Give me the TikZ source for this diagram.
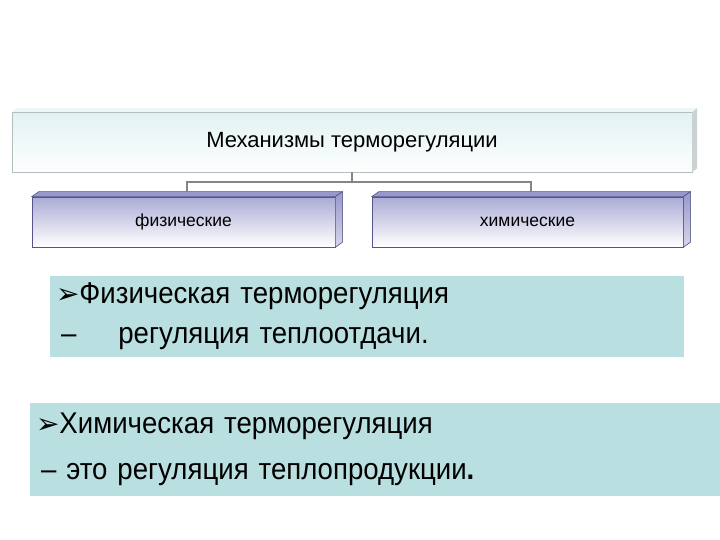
\documentclass[tikz,border=0pt]{standalone}
\usepackage{fontspec}
\setmainfont{Liberation Sans}
\newfontfamily\notefont[FakeStretch=0.92]{Liberation Sans}
\newfontfamily\arrowfont{DejaVu Sans}
\definecolor{notecyan}{HTML}{B9DFE0}
\definecolor{lavtop}{HTML}{ABABD6}
\definecolor{lavside}{HTML}{9898CC}
\definecolor{lavedge}{HTML}{55558A}
\definecolor{mechtop}{HTML}{E2F2F2}
\definecolor{mechedge}{HTML}{B4BEBE}
\definecolor{linkgray}{HTML}{858585}
\tikzset{
  mechbox/.style={draw=mechedge, top color=mechtop, bottom color=white!94!mechtop,
    minimum height=60pt, font=\fontsize{22}{26}\selectfont},
  kindbox/.style={draw=lavedge, line width=0.6pt, top color=lavtop, bottom color=white,
    minimum height=50pt, font=\fontsize{17.5}{20}\selectfont},
  notebox/.style={fill=notecyan, align=left, inner xsep=6pt,
    font=\notefont\fontsize{30}{40}\selectfont},
  link/.style={draw=linkgray, line width=1.4pt},
}
\newcommand{\bul}{{\arrowfont\fontsize{28}{28}\selectfont ➢}}
\begin{document}
\begin{tikzpicture}[x=1pt,y=-1pt]
\useasboundingbox (0,0) rectangle (720,540);

% top box
\node[mechbox, minimum width=680pt] (mech) at (352,142) {Механизмы терморегуляции};
\fill[mechedge!70] (mech.north east) -- ++(5,-4) -- ([shift={(5,-4)}]mech.south east)
  -- (mech.south east) -- cycle;
\fill[mechtop!60] (mech.north west) -- ++(5,-4) -- ([shift={(5,-4)}]mech.north east)
  -- (mech.north east) -- cycle;

% two kinds
\node[kindbox, minimum width=303pt] (phys) at (183.5,222) {физические};
\node[kindbox, minimum width=311pt] (chem) at (527.5,222) {химические};
\foreach \k in {phys,chem}{
  \filldraw[draw=lavedge, line width=0.6pt, fill=lavside] (\k.north west) -- ++(7,-5)
    -- ([shift={(7,-5)}]\k.north east) -- (\k.north east) -- cycle;
  \filldraw[draw=lavedge, line width=0.6pt, top color=lavside, bottom color=lavside!40]
    (\k.north east) -- ++(7,-5) -- ([shift={(7,-5)}]\k.south east)
    -- (\k.south east) -- cycle;
}
\coordinate (physTop) at ([shift={(3.5,-5)}]phys.north);
\coordinate (chemTop) at ([shift={(3.5,-5)}]chem.north);
\draw[link] (mech.south) -- ++(0,10) -| (physTop);
\draw[link] (mech.south) -- ++(0,10) -| (chemTop);

% notes
\node[notebox, minimum width=634pt, minimum height=81pt, text width=622pt] (physnote)
  at (367,316.5) {\bul Физическая терморегуляция\\
  \hspace{5pt}–\hspace{42pt}регуляция теплоотдачи.};
\node[notebox, minimum width=690pt, minimum height=93pt, text width=678pt,
  font=\notefont\fontsize{30}{46}\selectfont] (chemnote)
  at (375,449.5) {\bul Химическая терморегуляция\\
  \hspace{5pt}– это регуляция теплопродукции\textbf{.}};
\end{tikzpicture}
\end{document}
